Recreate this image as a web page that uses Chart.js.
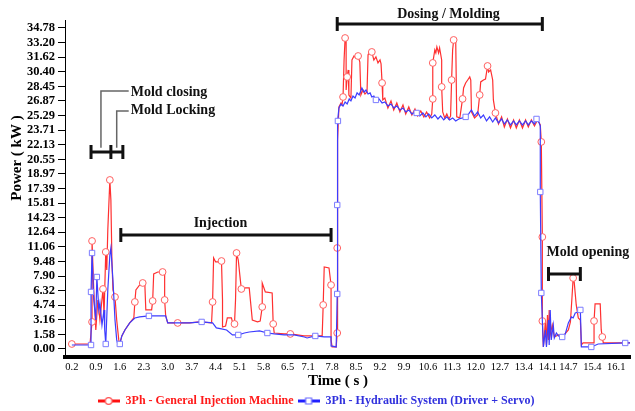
<!DOCTYPE html>
<html>
<head>
<meta charset="utf-8">
<script src="https://cdn.jsdelivr.net/npm/chart.js@4/dist/chart.umd.min.js"></script>
<style>
  html, body { margin: 0; padding: 0; background: #fff; }
</style>
</head>
<body>
<canvas id="power-chart" width="635" height="411"></canvas>
<script>
Chart.defaults.font.family = "'Liberation Serif', 'Times New Roman', serif";
Chart.defaults.color = '#000';

// Tick labels as printed on the original axes
const yTickLabels = ['0.00', '1.58', '3.16', '4.74', '6.32', '7.90', '9.48', '11.06', '12.64', '14.23', '15.81', '17.39',
  '18.97', '20.55', '22.13', '23.71', '25.29', '26.87', '28.45', '30.40', '31.62', '33.20', '34.78'];
const xTickLabels = ['0.2', '0.9', '1.6', '2.3', '3.0', '3.7', '4.4', '5.1', '5.8', '6.5', '7.1', '7.8',
  '8.5', '9.2', '9.9', '10.6', '11.3', '12.0', '12.7', '13.4', '14.1', '14.7', '15.4', '16.1'];

// 3Ph - General Injection Machine (time s / power kW)
const machineTime = [
  0.20, 0.73, 0.79, 0.79, 0.84, 0.90, 0.96, 1.02, 1.11, 1.14,
  1.19, 1.22, 1.25, 1.31, 1.34, 1.37, 1.40, 1.46, 1.51, 1.57,
  1.60, 1.66, 1.75, 1.89, 2.01, 2.04, 2.07, 2.18, 2.27, 2.33,
  2.36, 2.53, 2.56, 2.59, 2.71, 2.85, 2.91, 2.91, 2.94, 3.00,
  3.29, 3.64, 3.93, 4.28, 4.31, 4.34, 4.40, 4.51, 4.57, 4.60,
  4.60, 4.69, 4.74, 4.86, 4.92, 4.95, 4.98, 5.01, 5.06, 5.12,
  5.15, 5.27, 5.38, 5.47, 5.62, 5.70, 5.76, 5.76, 5.85, 6.05,
  6.08, 6.11, 6.40, 6.58, 6.98, 7.31, 7.51, 7.54, 7.57, 7.71,
  7.77, 7.77, 7.80, 7.92, 7.95, 7.95, 7.97, 8.00, 8.06, 8.09,
  8.12, 8.15, 8.18, 8.21, 8.21, 8.24, 8.27, 8.29, 8.35, 8.38,
  8.44, 8.50, 8.56, 8.61, 8.64, 8.70, 8.76, 8.82, 8.85, 8.91,
  8.96, 9.02, 9.08, 9.14, 9.20, 9.23, 9.26, 9.28, 9.34, 9.43,
  9.52, 9.60, 9.69, 9.78, 9.87, 9.95, 10.04, 10.13, 10.22, 10.30,
  10.39, 10.48, 10.56, 10.65, 10.71, 10.74, 10.74, 10.80, 10.83, 10.86,
  10.91, 10.94, 11.00, 11.00, 11.03, 11.09, 11.15, 11.21, 11.26, 11.29,
  11.32, 11.35, 11.41, 11.44, 11.53, 11.61, 11.64, 11.70, 11.76, 11.82,
  11.85, 11.87, 11.96, 12.05, 12.11, 12.14, 12.22, 12.28, 12.34, 12.37,
  12.43, 12.49, 12.51, 12.57, 12.66, 12.75, 12.83, 12.92, 13.01, 13.10,
  13.18, 13.27, 13.36, 13.45, 13.53, 13.62, 13.71, 13.80, 13.88, 13.91,
  13.94, 13.94, 13.97, 14.00, 14.03, 14.06, 14.09, 14.12, 14.14, 14.17,
  14.23, 14.29, 14.41, 14.55, 14.70, 14.76, 14.81, 14.84, 14.87, 14.93,
  14.99, 15.05, 15.08, 15.13, 15.45, 15.45, 15.48, 15.63, 15.66, 15.69,
  15.72, 16.50
];
const machinePower = [
  0.54, 0.54, 2.93, 11.70, 6.39, 2.06, 5.31, 3.14, 6.50, 3.68,
  10.51, 8.56, 12.89, 18.31, 16.14, 9.64, 6.39, 5.63, 3.14, 0.98,
  0.54, 1.41, 2.06, 2.82, 3.36, 5.09, 6.39, 6.93, 7.15, 7.15,
  4.23, 4.23, 5.20, 8.13, 8.34, 8.34, 8.23, 5.31, 3.58, 2.82,
  2.82, 2.82, 2.93, 2.82, 5.09, 9.86, 9.43, 9.43, 9.53, 5.31,
  2.38, 2.49, 3.36, 3.36, 2.49, 2.71, 5.31, 10.40, 9.64, 7.48,
  6.50, 6.61, 6.61, 3.14, 2.93, 3.03, 4.55, 7.15, 6.18, 6.07,
  2.71, 1.73, 1.63, 1.63, 1.41, 1.41, 1.41, 4.77, 8.88, 8.78,
  6.93, 0.98, 0.22, 0.22, 1.73, 10.94, 22.64, 26.22, 26.65, 26.44,
  27.30, 31.31, 33.69, 33.48, 28.06, 29.47, 30.23, 27.52, 27.19, 31.31,
  31.74, 31.53, 31.74, 31.09, 27.52, 28.06, 27.63, 27.84, 31.85, 32.39,
  32.18, 31.31, 31.64, 30.99, 31.31, 30.88, 28.82, 26.98, 27.19, 26.11,
  26.87, 25.89, 26.65, 25.68, 26.44, 25.46, 26.22, 25.35, 26.00, 25.24,
  25.79, 25.14, 25.68, 25.03, 25.46, 27.09, 30.99, 32.39, 32.07, 32.72,
  32.07, 32.61, 31.31, 28.39, 25.68, 25.03, 25.46, 24.92, 25.24, 29.14,
  32.39, 33.48, 33.48, 25.14, 25.03, 27.09, 28.28, 28.82, 29.14, 29.47,
  29.14, 25.68, 25.03, 25.35, 27.52, 28.93, 29.14, 29.25, 30.66, 30.01,
  30.23, 29.14, 26.98, 25.57, 24.38, 25.14, 24.05, 24.92, 23.94, 24.81,
  23.94, 24.81, 23.94, 24.81, 24.05, 24.81, 24.16, 24.81, 24.27, 22.43,
  12.13, 3.03, 0.22, 1.52, 3.14, 0.43, 3.68, 0.98, 4.23, 1.52,
  2.60, 1.30, 1.52, 1.41, 2.06, 2.93, 5.85, 7.69, 7.26, 4.77,
  3.36, 3.14, 0.43, 0.65, 0.65, 3.03, 4.88, 4.88, 2.06, 1.30,
  0.65, 0.65
];
// samples that carry a marker
const machineMarks = [0, 2, 3, 8, 10, 13, 17, 25, 28, 32, 35, 37, 40, 44, 48, 55, 57, 60, 66, 70, 73, 77, 80,
  84, 85, 90, 92, 95, 102, 110, 116, 135, 136, 143, 149, 151, 155, 164, 168, 173, 189, 190, 191, 207, 215, 219];

// 3Ph - Hydraulic System (Driver + Servo)
const hydraulicTime = [
  0.20, 0.76, 0.76, 0.79, 0.84, 0.90, 0.93, 0.99, 1.02, 1.08,
  1.14, 1.16, 1.19, 1.25, 1.31, 1.34, 1.40, 1.46, 1.51, 1.54,
  1.60, 1.66, 1.75, 1.89, 2.04, 2.18, 2.45, 2.77, 2.94, 3.00,
  3.29, 3.64, 3.99, 4.31, 4.42, 4.57, 4.72, 4.89, 5.06, 5.24,
  5.38, 5.68, 5.91, 6.11, 6.40, 6.69, 6.99, 7.07, 7.31, 7.57,
  7.77, 7.77, 7.92, 7.95, 7.95, 7.97, 8.00, 8.06, 8.12, 8.18,
  8.24, 8.30, 8.35, 8.41, 8.47, 8.53, 8.59, 8.67, 8.73, 8.79,
  8.85, 8.91, 8.96, 9.02, 9.08, 9.17, 9.26, 9.34, 9.43, 9.52,
  9.60, 9.69, 9.78, 9.87, 9.95, 10.04, 10.13, 10.22, 10.27, 10.36,
  10.45, 10.54, 10.62, 10.71, 10.80, 10.89, 10.97, 11.06, 11.15, 11.23,
  11.32, 11.41, 11.50, 11.61, 11.70, 11.79, 11.87, 11.96, 12.05, 12.14,
  12.22, 12.31, 12.40, 12.49, 12.57, 12.66, 12.75, 12.83, 12.92, 13.01,
  13.10, 13.18, 13.27, 13.36, 13.45, 13.53, 13.62, 13.71, 13.77, 13.85,
  13.88, 13.88, 13.91, 13.97, 14.03, 14.06, 14.12, 14.14, 14.17, 14.20,
  14.26, 14.29, 14.35, 14.41, 14.52, 14.61, 14.70, 14.79, 14.84, 14.90,
  14.99, 15.05, 15.08, 15.37, 15.57, 16.36, 16.50
];
const hydraulicPower = [
  0.43, 0.43, 6.18, 10.40, 5.31, 3.14, 7.80, 4.23, 4.98, 2.60,
  4.23, 2.06, 0.54, 6.39, 10.18, 10.94, 7.48, 3.14, 0.98, 0.54,
  0.54, 1.41, 2.06, 2.82, 3.36, 3.47, 3.58, 3.58, 3.58, 2.82,
  2.82, 2.82, 2.93, 2.82, 2.28, 2.17, 2.06, 1.52, 1.52, 1.73,
  1.84, 1.95, 1.73, 1.63, 1.52, 1.52, 1.30, 1.19, 1.41, 1.30,
  1.30, 0.33, 0.22, 5.96, 15.60, 24.70, 26.11, 26.54, 26.33, 26.76,
  26.54, 27.09, 26.87, 27.41, 27.19, 27.74, 27.52, 28.28, 27.84, 28.06,
  27.63, 27.74, 27.30, 27.41, 26.98, 27.09, 26.65, 26.76, 26.33, 26.54,
  26.11, 26.33, 25.89, 26.11, 25.68, 25.89, 25.46, 25.68, 25.57, 25.24,
  25.57, 25.14, 25.46, 25.03, 25.35, 24.92, 25.24, 24.81, 25.14, 24.81,
  25.03, 24.70, 24.92, 25.03, 25.14, 25.46, 25.89, 25.24, 25.68, 25.03,
  25.35, 24.70, 25.14, 24.59, 25.03, 24.49, 24.92, 24.38, 24.81, 24.27,
  24.70, 24.27, 24.70, 24.27, 24.70, 24.27, 24.70, 24.38, 24.92, 24.49,
  24.16, 17.01, 6.07, 0.22, 2.06, 0.22, 3.14, 0.43, 4.23, 0.98,
  2.60, 1.19, 1.73, 1.41, 1.30, 1.63, 2.82, 3.47, 3.36, 3.90,
  4.01, 4.23, 0.22, 0.22, 0.54, 0.65, 0.65
];
const hydraulicMarks = [1, 2, 3, 6, 12, 20, 26, 32, 38, 42, 48, 53, 54, 55, 74, 88, 104, 128, 131, 132, 144, 151, 153, 155];

// Process phases (seconds) and the power level (kW) their bar sits at
const phaseStart = [0.76, 1.63, 7.95, 14.12];
const phaseEnd = [1.69, 7.77, 13.94, 15.05];
const phaseLevel = [21.34, 12.35, 35.21, 8.13];
const lockingStart = 1.34;

const yStep = 34.78 / (yTickLabels.length - 1);

// small "line + marker" pictures for the legend
function legendIcon(lineColor, markColor, square) {
  const c = document.createElement('canvas');
  c.width = 22;
  c.height = 10;
  const g = c.getContext('2d');
  g.strokeStyle = lineColor;
  g.lineWidth = 3;
  g.beginPath();
  g.moveTo(0, 5);
  g.lineTo(22, 5);
  g.stroke();
  g.fillStyle = '#fff';
  g.strokeStyle = markColor;
  g.lineWidth = 1.2;
  g.beginPath();
  if (square) {
    g.rect(8, 2, 6, 6);
  } else {
    g.arc(11, 5, 3.3, 0, Math.PI * 2);
  }
  g.fill();
  g.stroke();
  return c;
}
const legendIcons = [legendIcon('#ff1010', '#ff5050', false), legendIcon('#2020ff', '#6a6aff', true)];
const legendColors = ['#ff1a1a', '#3030dd'];

// Phase bars, leader lines, labels and axis titles
const phasePlugin = {
  id: 'phases',
  afterDraw(chart) {
    const { ctx, chartArea } = chart;
    const x = chart.scales.x;
    const y = chart.scales.y;
    ctx.save();

    ctx.strokeStyle = '#111';
    ctx.lineWidth = 3;
    phaseStart.forEach((s, i) => {
      const x0 = x.getPixelForValue(s);
      const x1 = x.getPixelForValue(phaseEnd[i]);
      const yy = y.getPixelForValue(phaseLevel[i]);
      ctx.beginPath();
      ctx.moveTo(x0, yy);
      ctx.lineTo(x1, yy);
      ctx.moveTo(x0, yy - 7);
      ctx.lineTo(x0, yy + 7);
      ctx.moveTo(x1, yy - 7);
      ctx.lineTo(x1, yy + 7);
      ctx.stroke();
    });
    const xm = x.getPixelForValue(lockingStart);
    const ym = y.getPixelForValue(phaseLevel[0]);
    ctx.beginPath();
    ctx.moveTo(xm, ym - 7);
    ctx.lineTo(xm, ym + 7);
    ctx.stroke();

    // leader lines for the closing / locking labels
    ctx.strokeStyle = '#666';
    ctx.lineWidth = 1.5;
    [[[1.05, 21.8], [1.05, 27.95], [1.86, 27.95]], [[1.51, 21.8], [1.51, 25.79], [1.86, 25.79]]].forEach(pts => {
      ctx.beginPath();
      pts.forEach((p, k) => {
        const px = x.getPixelForValue(p[0]);
        const py = y.getPixelForValue(p[1]);
        if (k === 0) ctx.moveTo(px, py); else ctx.lineTo(px, py);
      });
      ctx.stroke();
    });

    ctx.fillStyle = '#111';
    ctx.textBaseline = 'middle';
    ctx.font = "bold 14px 'Liberation Serif', serif";
    const tags = [
      ['Mold closing', 1.92, 27.84, 'left'],
      ['Mold Locking', 1.92, 25.89, 'left'],
      ['Injection', 4.54, 13.65, 'center'],
      ['Dosing / Molding', 11.20, 36.29, 'center'],
      ['Mold opening', 14.06, 10.51, 'left']
    ];
    tags.forEach(t => {
      ctx.textAlign = t[3];
      ctx.fillText(t[0], x.getPixelForValue(t[1]), y.getPixelForValue(t[2]));
    });

    // axis titles
    ctx.fillStyle = '#000';
    ctx.font = "bold 15px 'Liberation Serif', serif";
    ctx.textAlign = 'center';
    ctx.fillText('Time ( s )', chartArea.left + 273, chartArea.bottom + 24);
    ctx.translate(17, chartArea.top + 138);
    ctx.rotate(-Math.PI / 2);
    ctx.fillText('Power ( kW )', 0, 0);
    ctx.restore();
  }
};

const toPoints = (times, values) => times.map((t, i) => ({ x: t, y: values[i] }));

const ctx = document.getElementById('power-chart').getContext('2d');
const powerChart = new Chart(ctx, {
  type: 'line',
  data: {
    datasets: [
      {
        label: '3Ph - General Injection Machine',
        data: toPoints(machineTime, machinePower),
        borderColor: '#ff3030',
        borderWidth: 1.2,
        backgroundColor: '#ff3030',
        pointStyle: 'circle',
        pointRadius: c => machineMarks.includes(c.dataIndex) ? 3.4 : 0,
        pointBorderColor: '#ff6060',
        pointBackgroundColor: '#fff',
        pointBorderWidth: 1,
        tension: 0,
        order: 2
      },
      {
        label: '3Ph - Hydraulic System (Driver + Servo)',
        data: toPoints(hydraulicTime, hydraulicPower),
        borderColor: '#3c3cff',
        borderWidth: 1.2,
        backgroundColor: '#3c3cff',
        pointStyle: 'rect',
        pointRadius: c => hydraulicMarks.includes(c.dataIndex) ? 3.8 : 0,
        pointBorderColor: '#7c7cff',
        pointBackgroundColor: '#fff',
        pointBorderWidth: 1,
        tension: 0,
        order: 1
      }
    ]
  },
  options: {
    responsive: false,
    animation: false,
    layout: { padding: { top: 20, right: 3, bottom: -6, left: 0 } },
    scales: {
      x: {
        type: 'linear',
        min: 0,
        max: 16.5,
        afterFit: scale => { scale.height = 34; },
        afterBuildTicks: scale => {
          scale.ticks = xTickLabels.map(l => ({ value: parseFloat(l) }));
        },
        ticks: {
          autoSkip: false,
          maxRotation: 0,
          padding: 4,
          font: { size: 10.5 },
          callback: (v, i) => xTickLabels[i]
        },
        grid: { display: false, drawTicks: false },
        border: { display: true, color: '#000', width: 4, dash: [3, 1.5] }
      },
      y: {
        type: 'linear',
        min: -0.87,
        max: 35.64,
        afterFit: scale => { scale.width = 65; },
        afterBuildTicks: scale => {
          scale.ticks = yTickLabels.map((l, i) => ({ value: i * yStep }));
        },
        ticks: {
          autoSkip: false,
          padding: 3,
          font: { size: 12.5, weight: 'bold' },
          callback: (v, i) => yTickLabels[i]
        },
        grid: { drawOnChartArea: false, drawTicks: true, tickLength: 7, color: '#000', lineWidth: 1 },
        border: { display: true, color: '#000', width: 1 }
      }
    },
    plugins: {
      tooltip: { enabled: false },
      legend: {
        position: 'bottom',
        labels: {
          usePointStyle: true,
          pointStyleWidth: 22,
          boxHeight: 10,
          padding: 4,
          font: { size: 12, weight: 'bold' },
          sort: (a, b) => a.datasetIndex - b.datasetIndex,
          generateLabels(chart) {
            const items = Chart.defaults.plugins.legend.labels.generateLabels(chart);
            items.forEach(item => {
              item.pointStyle = legendIcons[item.datasetIndex];
              item.fontColor = legendColors[item.datasetIndex];
            });
            return items;
          }
        }
      }
    }
  },
  plugins: [phasePlugin]
});
</script>
</body>
</html>
